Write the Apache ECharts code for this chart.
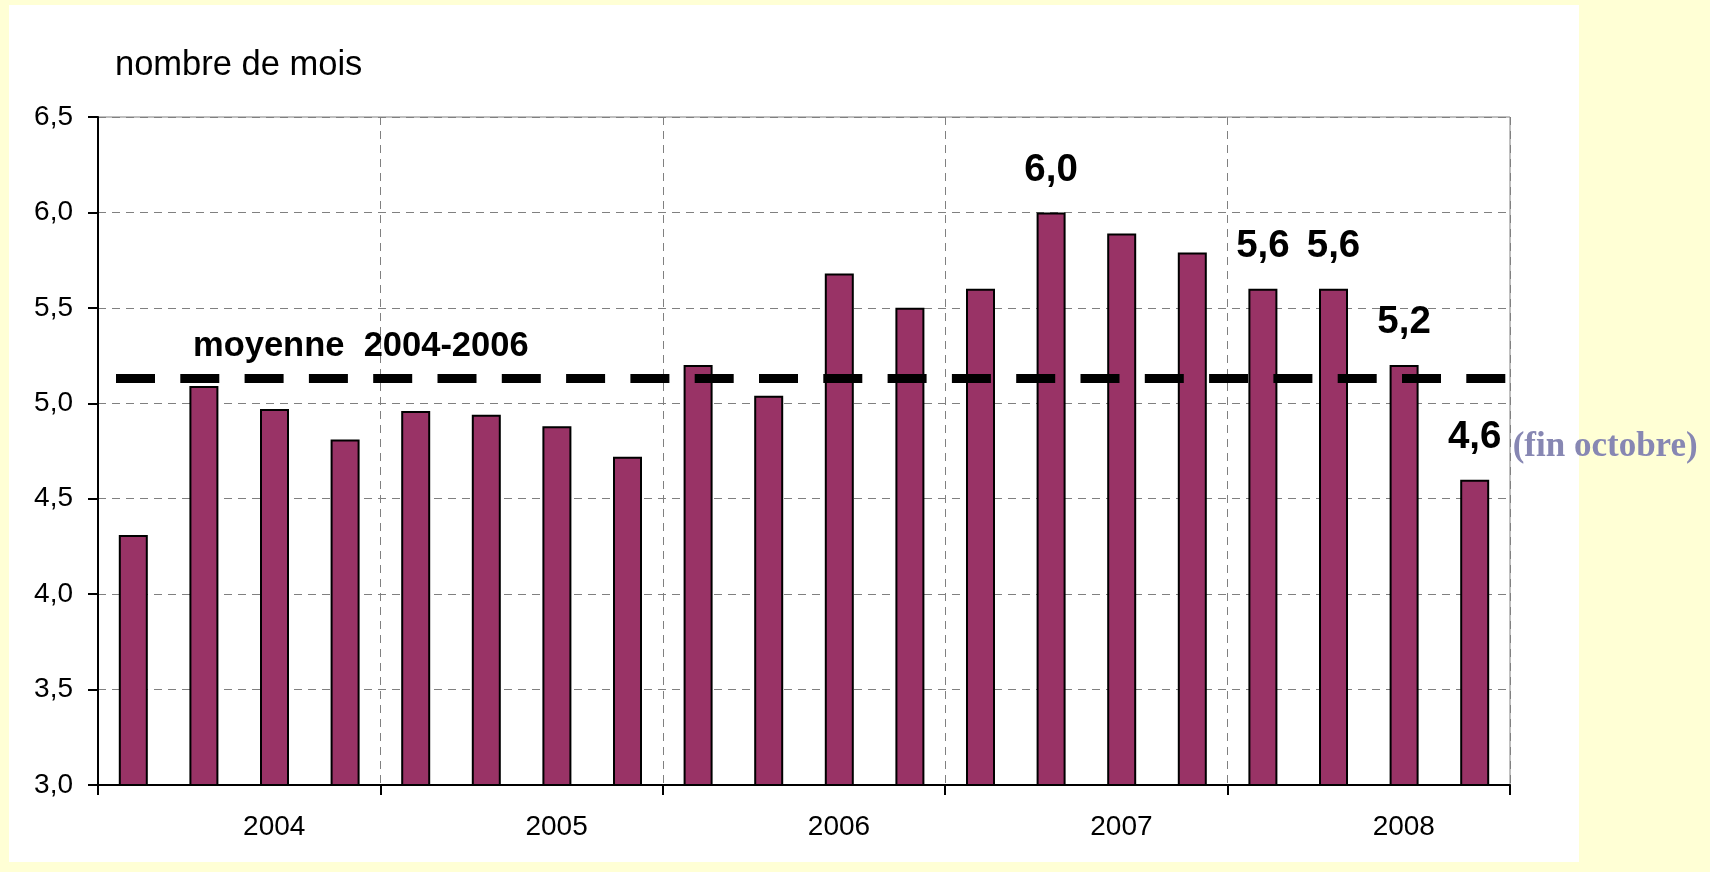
<!DOCTYPE html>
<html>
<head>
<meta charset="utf-8">
<script src="https://cdn.jsdelivr.net/npm/echarts@6/dist/echarts.min.js"></script>
<style>
  html, body { margin: 0; padding: 0; background: #ffffd5; }
  #chart { width: 1710px; height: 872px; }
</style>
</head>
<body>
<div id="chart"></div>
<script>
// ---- data ----
const quarters = [
  '2004 T1','2004 T2','2004 T3','2004 T4',
  '2005 T1','2005 T2','2005 T3','2005 T4',
  '2006 T1','2006 T2','2006 T3','2006 T4',
  '2007 T1','2007 T2','2007 T3','2007 T4',
  '2008 T1','2008 T2','2008 T3','2008 T4'
];
const years = ['2004', '2005', '2006', '2007', '2008'];
const values = [
  4.31, 5.09, 4.97, 4.81,
  4.96, 4.94, 4.88, 4.72,
  5.20, 5.04, 5.68, 5.50,
  5.60, 6.00, 5.89, 5.79,
  5.60, 5.60, 5.20, 4.60
];
const labelledIdx = [13, 16, 17, 18, 19];
const meanValue = 5.13;
const meanLabel = 'moyenne  2004-2006';
const yTicks = { min: 3, max: 6.5, interval: 0.5 };
const axisTitle = 'nombre de mois';
const noteText = '(fin octobre)';
const noteIdx = 19;

const fmt = v => Number(v).toFixed(1).replace('.', ',');
const SANS = "'Liberation Sans', Arial, sans-serif";
const SERIF = "'Liberation Serif', 'Times New Roman', serif";

const barData = values.map((v, i) => ({
  value: v,
  label: { show: labelledIdx.indexOf(i) >= 0 }
}));

const chart = echarts.init(document.getElementById('chart'), null, { renderer: 'canvas' });
chart.setOption({
  animation: false,
  backgroundColor: '#ffffd5',
  graphic: [{
    type: 'rect', z: -10, silent: true,
    shape: { x: 9, y: 5, width: 1570, height: 857 },
    style: { fill: '#ffffff' }
  }],
  title: {
    text: axisTitle,
    left: 110, top: 43,
    textStyle: { fontFamily: SANS, fontSize: 34.5, fontWeight: 'normal', color: '#000' }
  },
  grid: {
    left: 98, right: 200, top: 117, bottom: 87,
    show: true, borderColor: '#808080', borderWidth: 1, backgroundColor: 'transparent'
  },
  xAxis: [{
    type: 'category',
    data: quarters,
    show: false,
    boundaryGap: true
  }, {
    type: 'category',
    data: years,
    position: 'bottom',
    boundaryGap: true,
    axisLine: { show: true, onZero: false, lineStyle: { color: '#000', width: 2 } },
    axisTick: { show: true, length: 10, interval: 0, lineStyle: { color: '#000', width: 2 } },
    axisLabel: { interval: 0, margin: 28, padding: [0, 0, 0, 70], fontFamily: SANS, fontSize: 28, color: '#000' },
    splitLine: { show: true, interval: 0, lineStyle: { color: '#808080', width: 1, type: [8, 6] } }
  }],
  yAxis: {
    type: 'value',
    min: yTicks.min, max: yTicks.max, interval: yTicks.interval,
    axisLine: { show: true, lineStyle: { color: '#000', width: 2 } },
    axisTick: { show: true, length: 10, lineStyle: { color: '#000', width: 2 } },
    axisLabel: { formatter: fmt, margin: 25, fontFamily: SANS, fontSize: 28, color: '#000' },
    splitLine: { show: true, lineStyle: { color: '#808080', width: 1, type: [8, 6] } }
  },
  series: [{
    type: 'bar',
    xAxisIndex: 0,
    yAxisIndex: 0,
    data: barData,
    barWidth: 29,
    itemStyle: { color: '#993366', borderColor: '#000', borderWidth: 2 },
    label: {
      show: false,
      position: 'top',
      distance: 23,
      formatter: p => fmt(p.value),
      fontFamily: SANS, fontSize: 38.5, fontWeight: 'bold', color: '#000'
    },
    markLine: {
      silent: true,
      symbol: ['none', 'none'],
      data: [{ yAxis: meanValue }],
      lineStyle: { color: '#000', width: 9, type: [39, 25.3], dashOffset: 46.3 },
      label: {
        show: true,
        position: 'insideStartTop',
        distance: [95, 14],
        formatter: meanLabel,
        fontFamily: SANS, fontSize: 34.5, fontWeight: 'bold', color: '#000'
      },
      emphasis: { disabled: true }
    },
    markPoint: {
      silent: true,
      symbol: 'circle',
      symbolSize: 0,
      data: [{ coord: [noteIdx, values[noteIdx]] }],
      label: {
        show: true,
        position: 'inside',
        align: 'left',
        verticalAlign: 'middle',
        offset: [38, -33],
        formatter: noteText,
        fontFamily: SERIF, fontSize: 35, fontWeight: 'bold', color: '#8787b3'
      }
    }
  }]
});
</script>
</body>
</html>
